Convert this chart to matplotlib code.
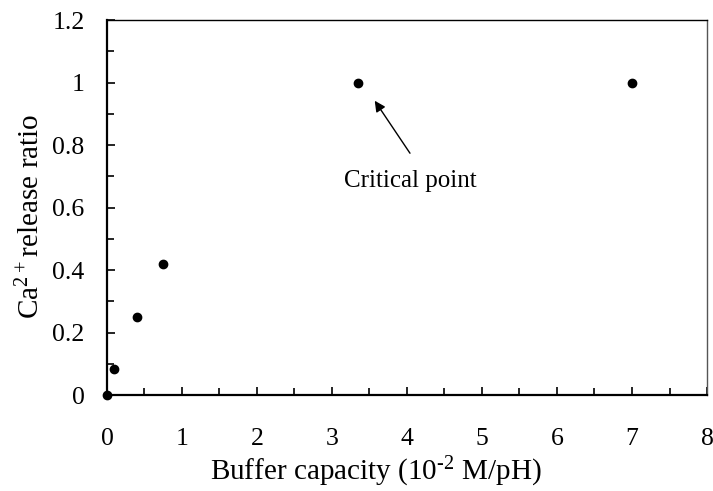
import matplotlib
matplotlib.use("Agg")
import matplotlib.pyplot as plt
from matplotlib.ticker import MultipleLocator

plt.rcParams['font.family'] = ['Liberation Serif', 'DejaVu Serif']
plt.rcParams['mathtext.fontset'] = 'custom'
plt.rcParams['mathtext.rm'] = 'Liberation Serif'
plt.rcParams['mathtext.default'] = 'regular'

# data
buffer_capacity = [0.0, 0.1, 0.4, 0.75, 3.35, 7.0]
release_ratio = [0.0, 0.083, 0.25, 0.42, 1.0, 1.0]
x_ticks = [0, 1, 2, 3, 4, 5, 6, 7, 8]
y_ticks = [0, 0.2, 0.4, 0.6, 0.8, 1.0, 1.2]
y_tick_labels = ['0', '0.2', '0.4', '0.6', '0.8', '1', '1.2']

fig = plt.figure(figsize=(7.13, 4.91), dpi=100)
ax = fig.add_axes([0.150, 0.1955, 0.8416, 0.7635])

ax.plot(buffer_capacity, release_ratio, 'o', color='black', markersize=6,
        clip_on=False, zorder=5)

ax.set_xlim(0, 8)
ax.set_ylim(0, 1.2)
ax.set_xticks(x_ticks)
ax.set_yticks(y_ticks)
ax.set_yticklabels(y_tick_labels)
ax.xaxis.set_minor_locator(MultipleLocator(0.5))
ax.yaxis.set_minor_locator(MultipleLocator(0.1))
ax.tick_params(which='both', direction='in', labelsize=18.5, width=1.2, color='black')
ax.tick_params(which='major', length=6)
ax.tick_params(which='minor', length=5)
ax.tick_params(axis='x', which='major', pad=24)
ax.tick_params(axis='y', which='major', pad=16)

for side in ['left', 'bottom']:
    ax.spines[side].set_linewidth(1.6)
ax.spines['top'].set_linewidth(1.0)
ax.spines['right'].set_linewidth(1.0)
ax.spines['right'].set_color('#555555')

ax.set_xlabel('Buffer capacity (10$^{\\text{-}2}$ M/pH)', fontsize=21, labelpad=3)
ax.set_ylabel('Ca$^{2+}$release ratio', fontsize=21, labelpad=5)
ax.xaxis.label.set_x(0.448)
ax.yaxis.label.set_y(0.477)

# arrow pointing at the critical point, label below it
ax.annotate('', xy=(3.57, 0.942), xytext=(4.04, 0.774),
            arrowprops=dict(arrowstyle='-|>', color='black', lw=1.0,
                            shrinkA=0, shrinkB=0, mutation_scale=16))
ax.text(4.04, 0.686, 'Critical point', fontsize=18, ha='center', va='center')

fig.savefig('out.png', dpi=100)
